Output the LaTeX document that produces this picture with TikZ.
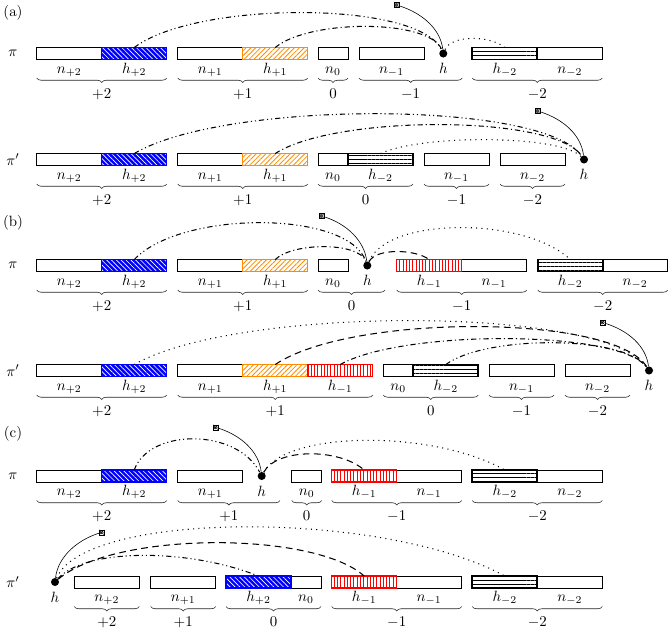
\documentclass[tikz,border=0pt]{standalone}
\usepackage{amsmath,amssymb}
\usepackage{tikz}
\usetikzlibrary{patterns.meta}
\usetikzlibrary{decorations.pathreplacing}
\definecolor{horange}{RGB}{255,140,0}

\tikzset{
  seg/.style={draw, minimum width=#1*0.0236cm, minimum height=8pt, inner sep=0pt, outer sep=0pt, anchor=west},
  seg/.default=65,
  hblue/.style={seg, draw=blue, thick, preaction={fill=blue}, pattern={Lines[angle=-45, distance=2.3pt, line width=0.45pt]}, pattern color=white},
  horange/.style={seg, draw=horange, semithick, pattern={Lines[angle=45, distance=2.3pt, line width=0.55pt]}, pattern color=horange},
  hred/.style={seg, draw=red, thick, pattern={Lines[angle=90, distance=2.2pt, line width=0.5pt]}, pattern color=red},
  hblack/.style={seg, very thick, pattern={Lines[angle=0, distance=2.67pt, line width=0.5pt]}},
  hdot/.style={circle, fill, inner sep=0pt, minimum size=5.4pt},
  tag/.style={draw, fill=white, inner sep=0pt, minimum size=3.4pt, line width=0.3pt,
    path picture={\draw[line width=0.25pt] (path picture bounding box.north west) -- (path picture bounding box.south east)
      (path picture bounding box.north east) -- (path picture bounding box.south west);
      \draw[line width=0.25pt] (path picture bounding box.center) circle[radius=1.1pt];}},
  br/.style={decorate, decoration={brace, mirror, amplitude=3pt}, black!85},
  brlbl/.style={midway, anchor=north, inner sep=0pt, text height=6.5pt, yshift=-6.9pt, black},
  every label/.style={inner sep=0pt, text height=7pt, text depth=2pt},
  label distance=2pt,
  arc/.style={line width=0.7pt},
  dotline/.style={arc, dash pattern=on 0.7pt off 2.9pt},
  dashline/.style={arc, dash pattern=on 4.5pt off 3pt},
  dashdotline/.style={arc, dash pattern=on 3.5pt off 2pt on 0.7pt off 2pt},
  dashdotdotline/.style={arc, dash pattern=on 3.5pt off 2pt on 0.7pt off 2pt on 0.7pt off 2pt},
}

\begin{document}
\begin{tikzpicture}[x=0.0236cm, y=-0.0236cm]
\useasboundingbox (0,0) rectangle (669,628);

\node (a-lbl) at (13,12.5) {(a)};
\node (b-lbl) at (13,223) {(b)};
\node (c-lbl) at (13,434) {(c)};

% (a) pi
\begin{scope}[shift={(0,53.5)}]
\node (a1-pi) at (13,0) {$\pi$};
\node[seg, label=below:$n_{+2}$] (a1-n2) at (36.7,0) {};
\node[seg, label=below:$n_{+1}$] (a1-n1) at (177.7,0) {};
\node[seg=30, label=below:$n_{0}$] (a1-n0) at (318,0) {};
\node[seg, label=below:$n_{-1}$] (a1-nm1) at (359,0) {};
\node[seg, label=below:$n_{-2}$] (a1-nm2) at (537.3,0) {};
\node[hblue, label=below:$h_{+2}$] (a1-h2) at (101.7,0) {};
\node[horange, label=below:$h_{+1}$] (a1-h1) at (242.7,0) {};
\node[hblack, label=below:$h_{-2}$] (a1-hm2) at (472.3,0) {};
\node[hdot, label={[label distance=3.4pt]below:$h$}] (a1-h) at (443.3,0) {};
\node[tag] (a1-t) at (396.7,-48.5) {};

\draw[br] (36.7,24.5) -- (166.7,24.5) node[brlbl] (a1-bp2) {$+2$};
\draw[br] (177.7,24.5) -- (307.7,24.5) node[brlbl] (a1-bp1) {$+1$};
\draw[br] (318,24.5) -- (348,24.5) node[brlbl] (a1-b0) {$0$};
\draw[br] (359,24.5) -- (462.3,24.5) node[brlbl] (a1-bm1) {$-1$};
\draw[br] (472.3,24.5) -- (602.3,24.5) node[brlbl] (a1-bm2) {$-2$};

\draw[dashdotdotline] (a1-h2.north) .. controls +(62,-47) and +(-25,-53) .. (a1-h);
\draw[dashdotline] (a1-h1.north) .. controls +(34,-28.5) and +(-14,-34.5) .. (a1-h);
\draw[dotline] (a1-h) .. controls +(8,-18.5) and +(-15,-12.5) .. (a1-hm2.north);
\draw (a1-t) .. controls +(25,8) and +(-3,-25) .. (a1-h);
\end{scope}

% (a) pi'
\begin{scope}[shift={(0,159.5)}]
\node (a2-pi) at (13,0) {$\pi'$};
\node[seg, label=below:$n_{+2}$] (a2-n2) at (36.7,0) {};
\node[seg, label=below:$n_{+1}$] (a2-n1) at (177.7,0) {};
\node[seg=30, label=below:$n_{0}$] (a2-n0) at (318,0) {};
\node[seg, label=below:$n_{-1}$] (a2-nm1) at (424,0) {};
\node[seg, label=below:$n_{-2}$] (a2-nm2) at (500,0) {};
\node[hblue, label=below:$h_{+2}$] (a2-h2) at (101.7,0) {};
\node[horange, label=below:$h_{+1}$] (a2-h1) at (242.7,0) {};
\node[hblack, label=below:$h_{-2}$] (a2-hm2) at (348,0) {};
\node[hdot, label={[label distance=3.4pt]below:$h$}] (a2-h) at (584,0) {};
\node[tag] (a2-t) at (537.7,-48.5) {};

\draw[br] (36.7,24.5) -- (166.7,24.5) node[brlbl] (a2-bp2) {$+2$};
\draw[br] (177.7,24.5) -- (307.7,24.5) node[brlbl] (a2-bp1) {$+1$};
\draw[br] (318,24.5) -- (413,24.5) node[brlbl] (a2-b0) {$0$};
\draw[br] (424,24.5) -- (489,24.5) node[brlbl] (a2-bm1) {$-1$};
\draw[br] (500,24.5) -- (565,24.5) node[brlbl] (a2-bm2) {$-2$};

\draw[dashdotdotline] (a2-h2.north) .. controls +(90,-53.5) and +(-40,-59.5) .. (a2-h);
\draw[dashdotline] (a2-h1.north) .. controls +(60,-39) and +(-30,-45) .. (a2-h);
\draw[dotline] (a2-hm2.north) .. controls +(40,-19) and +(-25,-25) .. (a2-h);
\draw (a2-t) .. controls +(25,8) and +(-3,-25) .. (a2-h);
\end{scope}

% (b) pi
\begin{scope}[shift={(0,265.5)}]
\node (b1-pi) at (13,0) {$\pi$};
\node[seg, label=below:$n_{+2}$] (b1-n2) at (36.7,0) {};
\node[seg, label=below:$n_{+1}$] (b1-n1) at (177.7,0) {};
\node[seg=30, label=below:$n_{0}$] (b1-n0) at (318,0) {};
\node[seg, label=below:$n_{-1}$] (b1-nm1) at (461.7,0) {};
\node[seg, label=below:$n_{-2}$] (b1-nm2) at (602.7,0) {};
\node[hblue, label=below:$h_{+2}$] (b1-h2) at (101.7,0) {};
\node[horange, label=below:$h_{+1}$] (b1-h1) at (242.7,0) {};
\node[hred, label=below:$h_{-1}$] (b1-hm1) at (396.7,0) {};
\node[hblack, label=below:$h_{-2}$] (b1-hm2) at (537.7,0) {};
\node[hdot, label={[label distance=3.4pt]below:$h$}] (b1-h) at (367.3,0) {};
\node[tag] (b1-t) at (321.7,-49.5) {};

\draw[br] (36.7,24.5) -- (166.7,24.5) node[brlbl] (b1-bp2) {$+2$};
\draw[br] (177.7,24.5) -- (307.7,24.5) node[brlbl] (b1-bp1) {$+1$};
\draw[br] (318,24.5) -- (385,24.5) node[brlbl] (b1-b0) {$0$};
\draw[br] (396.7,24.5) -- (526.7,24.5) node[brlbl] (b1-bm1) {$-1$};
\draw[br] (537.7,24.5) -- (667.7,24.5) node[brlbl] (b1-bm2) {$-2$};

\draw[dashdotdotline] (b1-h2.north) .. controls +(47,-49.5) and +(-19,-55.5) .. (b1-h);
\draw[dashdotline] (b1-h1.north) .. controls +(18,-17.5) and +(-8,-23.5) .. (b1-h);
\draw[dashline] (b1-h) .. controls +(8,-17) and +(-15,-11) .. (b1-hm1.north);
\draw[dotline] (b1-h) .. controls +(20,-49) and +(-45,-43) .. (b1-hm2.north);
\draw (b1-t) .. controls +(25,8) and +(-3,-25) .. (b1-h);
\end{scope}

% (b) pi'
\begin{scope}[shift={(0,370.5)}]
\node (b2-pi) at (13,0) {$\pi'$};
\node[seg, label=below:$n_{+2}$] (b2-n2) at (36.7,0) {};
\node[seg, label=below:$n_{+1}$] (b2-n1) at (177.7,0) {};
\node[seg=30, label=below:$n_{0}$] (b2-n0) at (383.3,0) {};
\node[seg, label=below:$n_{-1}$] (b2-nm1) at (489,0) {};
\node[seg, label=below:$n_{-2}$] (b2-nm2) at (565,0) {};
\node[hblue, label=below:$h_{+2}$] (b2-h2) at (101.7,0) {};
\node[horange, label=below:$h_{+1}$] (b2-h1) at (242.7,0) {};
\node[hred, label=below:$h_{-1}$] (b2-hm1) at (307.7,0) {};
\node[hblack, label=below:$h_{-2}$] (b2-hm2) at (413.3,0) {};
\node[hdot, label={[label distance=3.4pt]below:$h$}] (b2-h) at (649,0) {};
\node[tag] (b2-t) at (602.7,-48) {};

\draw[br] (36.7,24.5) -- (166.7,24.5) node[brlbl] (b2-bp2) {$+2$};
\draw[br] (177.7,24.5) -- (372.7,24.5) node[brlbl] (b2-bp1) {$+1$};
\draw[br] (383.3,24.5) -- (478.3,24.5) node[brlbl] (b2-b0) {$0$};
\draw[br] (489,24.5) -- (554,24.5) node[brlbl] (b2-bm1) {$-1$};
\draw[br] (565,24.5) -- (630,24.5) node[brlbl] (b2-bm2) {$-2$};

\draw[dotline] (b2-h2.north) .. controls +(103,-59) and +(-45,-65) .. (b2-h);
\draw[dashline] (b2-h1.north) .. controls +(75,-51) and +(-35,-57) .. (b2-h);
\draw[dashdotline] (b2-hm1.north) .. controls +(62,-35) and +(-30,-41) .. (b2-h);
\draw[dashdotdotline] (b2-hm2.north) .. controls +(40,-29.5) and +(-25,-35.5) .. (b2-h);
\draw (b2-t) .. controls +(25,8) and +(-3,-25) .. (b2-h);
\end{scope}

% (c) pi
\begin{scope}[shift={(0,476)}]
\node (c1-pi) at (13,0) {$\pi$};
\node[seg, label=below:$n_{+2}$] (c1-n2) at (36.7,0) {};
\node[seg, label=below:$n_{+1}$] (c1-n1) at (177.7,0) {};
\node[seg=30, label=below:$n_{0}$] (c1-n0) at (291.7,0) {};
\node[seg, label=below:$n_{-1}$] (c1-nm1) at (396.7,0) {};
\node[seg, label=below:$n_{-2}$] (c1-nm2) at (537.3,0) {};
\node[hblue, label=below:$h_{+2}$] (c1-h2) at (101.7,0) {};
\node[hred, label=below:$h_{-1}$] (c1-hm1) at (331.7,0) {};
\node[hblack, label=below:$h_{-2}$] (c1-hm2) at (472.3,0) {};
\node[hdot, label={[label distance=3.4pt]below:$h$}] (c1-h) at (261.7,0) {};
\node[tag] (c1-t) at (215.7,-48.7) {};

\draw[br] (36.7,24.5) -- (166.7,24.5) node[brlbl] (c1-bp2) {$+2$};
\draw[br] (177.7,24.5) -- (280,24.5) node[brlbl] (c1-bp1) {$+1$};
\draw[br] (291.7,24.5) -- (321.7,24.5) node[brlbl] (c1-b0) {$0$};
\draw[br] (331.7,24.5) -- (461.7,24.5) node[brlbl] (c1-bm1) {$-1$};
\draw[br] (472.3,24.5) -- (602.3,24.5) node[brlbl] (c1-bm2) {$-2$};

\draw[dashdotdotline] (c1-h2.north) .. controls +(15,-42) and +(-25,-48) .. (c1-h);
\draw[dashline] (c1-h) .. controls +(15,-28) and +(-25,-22) .. (c1-hm1.north);
\draw[dotline] (c1-h) .. controls +(25,-46) and +(-70,-40) .. (c1-hm2.north);
\draw (c1-t) .. controls +(25,8) and +(-3,-25) .. (c1-h);
\end{scope}

% (c) pi'
\begin{scope}[shift={(0,582)}]
\node (c2-pi) at (13,0) {$\pi'$};
\node[seg, label=below:$n_{+2}$] (c2-n2) at (74.3,0) {};
\node[seg, label=below:$n_{+1}$] (c2-n1) at (150.7,0) {};
\node[seg=30, label=below:$n_{0}$] (c2-n0) at (291,0) {};
\node[seg, label=below:$n_{-1}$] (c2-nm1) at (396.7,0) {};
\node[seg, label=below:$n_{-2}$] (c2-nm2) at (537.3,0) {};
\node[hblue, label=below:$h_{+2}$] (c2-h2) at (226,0) {};
\node[hred, label=below:$h_{-1}$] (c2-hm1) at (331.7,0) {};
\node[hblack, label=below:$h_{-2}$] (c2-hm2) at (472.3,0) {};
\node[hdot, label={[label distance=3.4pt]below:$h$}] (c2-h) at (55,0) {};
\node[tag] (c2-t) at (101.7,-49.7) {};

\draw[br] (74.3,24.5) -- (139.3,24.5) node[brlbl] (c2-bp2) {$+2$};
\draw[br] (150.7,24.5) -- (215.7,24.5) node[brlbl] (c2-bp1) {$+1$};
\draw[br] (226,24.5) -- (321,24.5) node[brlbl] (c2-b0) {$0$};
\draw[br] (331.7,24.5) -- (461.7,24.5) node[brlbl] (c2-bm1) {$-1$};
\draw[br] (472.3,24.5) -- (602.3,24.5) node[brlbl] (c2-bm2) {$-2$};

\draw[dotline] (c2-h) .. controls +(30,-72) and +(-120,-66) .. (c2-hm2.north);
\draw[dashline] (c2-h) .. controls +(60,-51) and +(-50,-45) .. (c2-hm1.north);
\draw[dashdotdotline] (c2-h) .. controls +(30,-34) and +(-70,-28) .. (c2-h2.north);
\draw (c2-t) .. controls +(-25,8) and +(3,-25) .. (c2-h);
\end{scope}
\end{tikzpicture}
\end{document}
